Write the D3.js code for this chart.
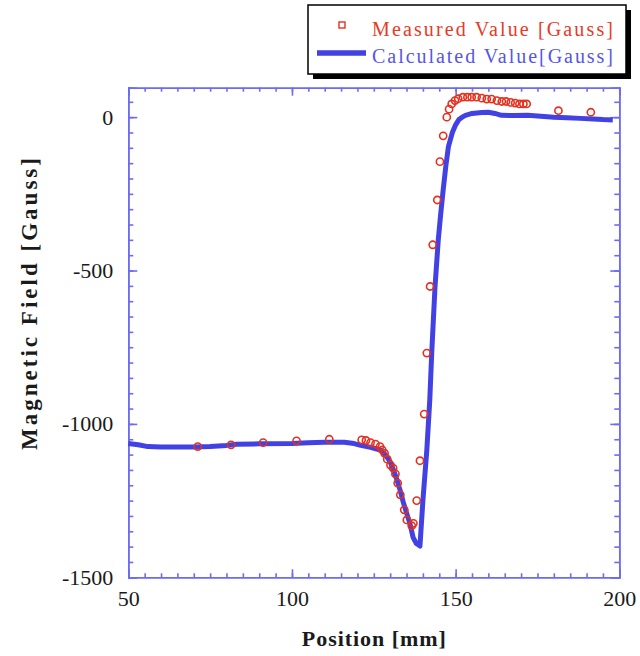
<!DOCTYPE html>
<html>
<head>
<meta charset="utf-8">
<script src="https://cdn.jsdelivr.net/npm/d3@7"></script>
<style>
  body { margin: 0; background: #fff; }
  svg { display: block; }
</style>
</head>
<body>
<svg id="chart"></svg>
<script>
// Calculated field along the position (blue line)
const calcPos = [50, 53, 56, 60, 70, 75, 80, 83, 90, 100, 105, 110, 116, 119, 121, 124, 127, 128.5, 130, 131,
    132, 133, 134, 135, 136, 137, 138, 139.1, 140, 141.2, 142.1, 142.7, 143.7, 144.7, 145.4, 146.2, 147, 147.8, 149, 150,
    151, 152, 153, 155, 158, 160, 162, 164, 168, 172, 176, 180, 184, 188, 192, 195, 198]
const calcField = [-1064, -1068, -1074, -1075, -1075, -1074, -1070, -1066, -1065, -1064, -1061, -1060, -1060, -1064, -1070, -1076, -1085, -1100, -1124, -1150,
    -1180, -1215, -1255, -1290, -1323, -1370, -1390, -1398, -1250, -1085, -922, -768, -553, -400, -320, -237, -160, -96, -50, -25,
    -8, 0, 6, 12, 15, 16, 12, 6, 5, 6, 3, 0, -2, -4, -6, -8, -9]

// Measured field (red markers)
const measPos = [71.2, 81.4, 91.2, 101.4, 111.4, 121.3, 122.6, 124.0, 125.5, 126.9, 127.6, 128.3, 129.1, 130.1, 130.9, 131.6, 132.3, 133.1, 134.3, 135.1,
    136.6, 137.1, 138.1, 139.1, 140.4, 141.2, 142.2, 143.0, 144.4, 145.2, 146.2, 147.3, 148.0, 148.8, 149.8, 150.8, 152.2, 153.6, 154.9, 156.4,
    158.0, 159.5, 161.0, 162.6, 164.1, 165.4, 166.8, 168.2, 169.5, 170.7, 171.7, 181.4, 191.3]
const measField = [-1074, -1068, -1061, -1055, -1050, -1052, -1054, -1061, -1066, -1074, -1085, -1096, -1115, -1134, -1144, -1163, -1193, -1231, -1280, -1313,
    -1332, -1324, -1250, -1120, -968, -769, -552, -416, -270, -145, -61, 0, 26, 43, 54, 60, 65, 65, 65, 65,
    62, 59, 59, 54, 51, 51, 48, 46, 43, 43, 43, 21, 16]

const xTicks = [50, 100, 150, 200]
const yTicks = [0, -500, -1000, -1500]
const legendLabels = ["Measured Value [Gauss]", "Calculated Value[Gauss]"]

const width = 640
const height = 656
const serif = "'Liberation Serif', 'Times New Roman', serif"
const axisColor = "#6b6bf5"
const lineColor = "#4141e4"
const markColor = "#e5301e"

const svg = d3.select("#chart")
    .attr("width", width)
    .attr("height", height)
    .style("font-family", serif)

const x = d3.scaleLinear().domain([50, 200]).range([128.3, 619.3])
const y = d3.scaleLinear().domain([-1500, 96]).range([577.3, 87.7])

const calcData = calcPos.map((p, i) => ({ x: p, y: calcField[i] }))
const measData = measPos.map((p, i) => ({ x: p, y: measField[i] }))

const minorX = d3.range(50, 201, 5)
const minorY = d3.range(-1500, 96, 50)

// axes on all four sides, ticks pointing inwards
function styleAxis(g) {
    g.attr("font-family", serif).attr("font-size", 22)
    g.selectAll("path, line").attr("stroke", axisColor).attr("stroke-width", 1.6)
    g.selectAll("text").attr("fill", "#1a1a1a")
}

svg.append("g")
    .attr("transform", `translate(0,${y.range()[0]})`)
    .call(d3.axisBottom(x).tickValues(minorX).tickSize(-4).tickFormat(""))
    .call(styleAxis)
svg.append("g")
    .attr("transform", `translate(0,${y.range()[0]})`)
    .call(d3.axisBottom(x).tickValues(xTicks).tickSize(-8).tickPadding(13).tickFormat(d => String(d)))
    .call(styleAxis)

svg.append("g")
    .attr("transform", `translate(0,${y.range()[1]})`)
    .call(d3.axisTop(x).tickValues(minorX).tickSize(-4).tickFormat(""))
    .call(styleAxis)
svg.append("g")
    .attr("transform", `translate(0,${y.range()[1]})`)
    .call(d3.axisTop(x).tickValues(xTicks).tickSize(-8).tickFormat(""))
    .call(styleAxis)

svg.append("g")
    .attr("transform", `translate(${x.range()[0]},0)`)
    .call(d3.axisLeft(y).tickValues(minorY).tickSize(-5).tickFormat(""))
    .call(styleAxis)
svg.append("g")
    .attr("transform", `translate(${x.range()[0]},0)`)
    .call(d3.axisLeft(y).tickValues(yTicks).tickSize(-9).tickPadding(15).tickFormat(d => String(d)))
    .call(styleAxis)

svg.append("g")
    .attr("transform", `translate(${x.range()[1]},0)`)
    .call(d3.axisRight(y).tickValues(minorY).tickSize(-5).tickFormat(""))
    .call(styleAxis)
svg.append("g")
    .attr("transform", `translate(${x.range()[1]},0)`)
    .call(d3.axisRight(y).tickValues(yTicks).tickSize(-9).tickFormat(""))
    .call(styleAxis)

// axis titles
svg.append("text")
    .attr("x", (x.range()[0] + x.range()[1]) / 2)
    .attr("y", 646)
    .attr("text-anchor", "middle")
    .attr("textLength", 144)
    .attr("lengthAdjust", "spacing")
    .style("font-size", "22px")
    .style("font-weight", "bold")
    .attr("fill", "#1a1a1a")
    .text("Position [mm]")

svg.append("text")
    .attr("transform", "translate(37,304) rotate(-90)")
    .attr("text-anchor", "middle")
    .attr("textLength", 292)
    .attr("lengthAdjust", "spacing")
    .style("font-size", "23px")
    .style("font-weight", "bold")
    .attr("fill", "#1a1a1a")
    .text("Magnetic Field [Gauss]")

// calculated curve
const line = d3.line()
    .x(d => x(d.x))
    .y(d => y(d.y))

svg.append("path")
    .datum(calcData)
    .attr("d", line)
    .attr("fill", "none")
    .attr("stroke", lineColor)
    .attr("stroke-width", 5)
    .attr("stroke-linejoin", "round")

// measured points
svg.append("g")
    .selectAll("circle")
    .data(measData)
    .enter()
    .append("circle")
    .attr("cx", d => x(d.x))
    .attr("cy", d => y(d.y))
    .attr("r", 3.6)
    .attr("fill", "none")
    .attr("stroke", markColor)
    .attr("stroke-width", 1.6)

// legend with drop shadow
const legend = svg.append("g")
legend.append("rect")
    .attr("x", 313).attr("y", 10).attr("width", 318).attr("height", 69)
    .attr("fill", "#000")
legend.append("rect")
    .attr("x", 308).attr("y", 5).attr("width", 318).attr("height", 69)
    .attr("fill", "#fff").attr("stroke", "#000").attr("stroke-width", 1.5)

legend.append("rect")
    .attr("x", 339).attr("y", 22).attr("width", 6).attr("height", 6)
    .attr("fill", "none").attr("stroke", markColor).attr("stroke-width", 1.4)
legend.append("line")
    .attr("x1", 317).attr("x2", 366).attr("y1", 53).attr("y2", 53)
    .attr("stroke", lineColor).attr("stroke-width", 5.5)

legend.selectAll("text.lab")
    .data(legendLabels)
    .enter()
    .append("text")
    .attr("class", "lab")
    .attr("x", 372)
    .attr("y", (d, i) => 36 + i * 27)
    .attr("textLength", 241)
    .attr("lengthAdjust", "spacing")
    .style("font-size", "20px")
    .attr("fill", (d, i) => i === 0 ? "#e53a28" : "#5555e6")
    .text(d => d)
</script>
</body>
</html>
